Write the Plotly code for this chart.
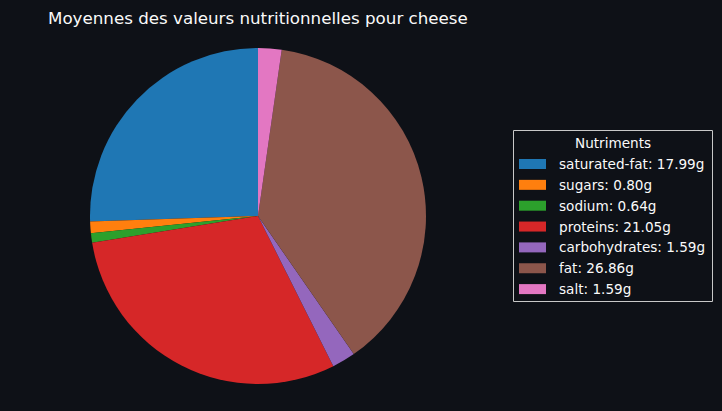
import plotly.graph_objects as go

W, H = 722, 411
nutrients = ["saturated-fat", "sugars", "sodium", "proteins", "carbohydrates", "fat", "salt"]
values = [17.99, 0.80, 0.64, 21.05, 1.59, 26.86, 1.59]
colors = ["#1f77b4", "#ff7f0e", "#2ca02c", "#d62728", "#9467bd", "#8c564b", "#e377c2"]
title_text = "Moyennes des valeurs nutritionnelles pour cheese"
legend_title = "Nutriments"
bg = "#0e1117"
fg = "#fafafa"

def px(x):
    return x / W

def py(y):
    return 1 - y / H

cx, cy, r = 258, 216, 168
# make the first slice start at 12 o'clock going counterclockwise (matplotlib startangle=90)
rot = -values[0] / sum(values) * 360

fig = go.Figure(go.Pie(
    labels=nutrients, values=values, sort=False, direction="counterclockwise",
    rotation=rot, marker=dict(colors=colors, line=dict(width=0)),
    textinfo="none", hoverinfo="label+value", showlegend=False,
    domain=dict(x=[px(cx - r), px(cx + r)], y=[py(cy + r), py(cy - r)]),
))

shapes = []
annotations = []
# title
annotations.append(dict(text=title_text, x=px(258), y=py(18), xref="paper", yref="paper",
                        showarrow=False, xanchor="center", yanchor="middle",
                        font=dict(family="DejaVu Sans", size=16.7, color=fg)))
# legend box
shapes.append(dict(type="rect", xref="paper", yref="paper",
                   x0=px(513.5), x1=px(712.5), y0=py(301.5), y1=py(130.5),
                   line=dict(color="#c8c8c8", width=1), fillcolor=bg, layer="above"))
annotations.append(dict(text=legend_title, x=px(612.5), y=py(143.5), xref="paper", yref="paper",
                        showarrow=False, xanchor="center", yanchor="middle",
                        font=dict(family="DejaVu Sans", size=13.6, color=fg)))
row0, dy = 164, 20.85
for i, (n, v, c) in enumerate(zip(nutrients, values, colors)):
    yc = row0 + i * dy
    shapes.append(dict(type="rect", xref="paper", yref="paper",
                       x0=px(519), x1=px(546), y0=py(yc + 5), y1=py(yc - 5),
                       line=dict(width=0), fillcolor=c, layer="above"))
    annotations.append(dict(text=f"{n}: {v:.2f}g", x=px(557), y=py(yc), xref="paper", yref="paper",
                            showarrow=False, xanchor="left", yanchor="middle",
                            font=dict(family="DejaVu Sans", size=13.6, color=fg)))

fig.update_layout(width=W, height=H, margin=dict(l=0, r=0, t=0, b=0),
                  paper_bgcolor=bg, plot_bgcolor=bg, shapes=shapes, annotations=annotations)
fig.write_html("out.html")
